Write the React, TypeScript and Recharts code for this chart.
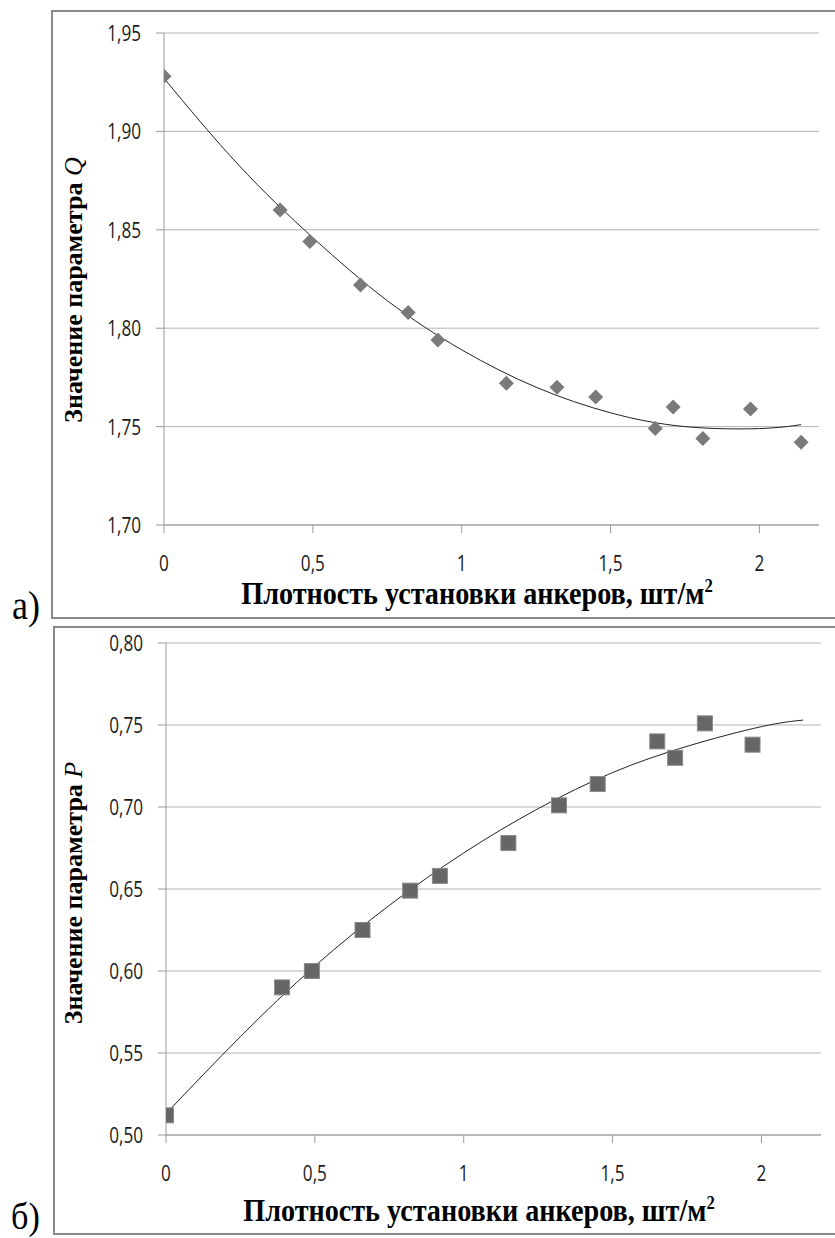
import React from 'react';
import { ComposedChart, Scatter, Line, XAxis, YAxis, CartesianGrid } from 'recharts';

// anchor density, pcs/m2
const density = [0, 0.39, 0.49, 0.66, 0.82, 0.92, 1.15, 1.32, 1.45, 1.65, 1.71, 1.81, 1.97, 2.14];
// parameter Q (chart a)
const qValues = [1.928, 1.86, 1.844, 1.822, 1.808, 1.794, 1.772, 1.77, 1.765, 1.749, 1.76, 1.744, 1.759, 1.742];
// parameter P (chart б), no point at 2.14
const pValues = [0.512, 0.59, 0.6, 0.625, 0.649, 0.658, 0.678, 0.701, 0.714, 0.74, 0.73, 0.751, 0.738];

// trend lines
const trendX = [0, 0.25, 0.5, 0.75, 1, 1.25, 1.5, 1.75, 2, 2.14];
const qTrend = [1.927, 1.883, 1.846, 1.814, 1.789, 1.77, 1.757, 1.75, 1.749, 1.751];
const pTrend = [0.513, 0.56, 0.603, 0.64, 0.672, 0.699, 0.721, 0.737, 0.749, 0.753];

const xTicks = [0, 0.5, 1, 1.5, 2];
const qTicks = [1.7, 1.75, 1.8, 1.85, 1.9, 1.95];
const pTicks = [0.5, 0.55, 0.6, 0.65, 0.7, 0.75, 0.8];

const X_TITLE = 'Плотность установки анкеров, шт/м';

const qPoints = density.map((x, i) => ({ x, y: qValues[i] }));
const pPoints = pValues.map((y, i) => ({ x: density[i], y }));
const qLine = trendX.map((x, i) => ({ x, y: qTrend[i] }));
const pLine = trendX.map((x, i) => ({ x, y: pTrend[i] }));

const TICK_FONT = '"Open Sans", "Noto Sans", sans-serif';
const SERIF = '"Liberation Serif", "DejaVu Serif", serif';
const comma = (v: number, d?: number) => (d === undefined ? String(v) : v.toFixed(d)).replace('.', ',');

const XTick = (props: any) => {
  const { x, y, payload } = props;
  return (
    <g transform={`translate(${x},${y + 36})`}>
      <text
        transform="scale(0.78,1)"
        textAnchor="middle"
        fontFamily={TICK_FONT}
        fontSize="22px"
        fill="#1a1a1a"
      >
        {comma(payload.value)}
      </text>
    </g>
  );
};

const YTick = (props: any) => {
  const { x, y, payload } = props;
  return (
    <g transform={`translate(${x - 13},${y + 8})`}>
      <text transform="scale(0.78,1)" textAnchor="end" fontFamily={TICK_FONT} fontSize="22px" fill="#1a1a1a">
        {comma(payload.value, 2)}
      </text>
    </g>
  );
};

const Diamond = (props: any) => {
  const { cx, cy } = props;
  const r = 7.5;
  return <path d={`M${cx},${cy - r}L${cx + r},${cy}L${cx},${cy + r}L${cx - r},${cy}Z`} fill="#7a7a7a" />;
};

const Square = (props: any) => {
  const { cx, cy } = props;
  return <rect x={cx - 7.5} y={cy - 7.5} width={15} height={15} fill="#666" stroke="#8a8a8a" strokeWidth={1} />;
};

function Panel({ points, line, ticks, domain, shape, margin }: any) {
  return (
    <ComposedChart width={835} height={620} margin={margin}>
      <CartesianGrid horizontal vertical={false} stroke="#b4b4b4" />
      <XAxis
        type="number"
        dataKey="x"
        domain={[0, 2.2]}
        ticks={xTicks}
        tickSize={8}
        stroke="#999"
        tick={<XTick />}
        height={30}
        allowDataOverflow
      />
      <YAxis
        type="number"
        domain={domain}
        ticks={ticks}
        tickSize={8}
        stroke="#999"
        tick={<YTick />}
        width={60}
        allowDataOverflow
      />
      <Line
        data={line}
        dataKey="y"
        type="natural"
        stroke="#222"
        strokeWidth={1}
        dot={false}
        isAnimationActive={false}
      />
      <Scatter data={points} dataKey="y" shape={shape} isAnimationActive={false} />
    </ComposedChart>
  );
}

function YTitle({ cx, cy, param }: { cx: number; cy: number; param: string }) {
  return (
    <text
      transform={`translate(${cx},${cy}) rotate(-90)`}
      textAnchor="middle"
      fontFamily={SERIF}
      fontSize="26px"
      fontWeight="bold"
      fill="#000"
    >
      Значение параметра{' '}
      <tspan fontStyle="italic" fontWeight="normal">
        {param}
      </tspan>
    </text>
  );
}

function XTitle({ cx, y }: { cx: number; y: number }) {
  return (
    <text
      transform={`translate(${cx},${y}) scale(0.88,1)`}
      textAnchor="middle"
      fontFamily={SERIF}
      fontSize="32px"
      fontWeight="bold"
      fill="#000"
    >
      {X_TITLE}
      <tspan fontSize="19px" dy={-12}>
        2
      </tspan>
    </text>
  );
}

export default function App() {
  return (
    <div
      style={{
        position: 'absolute',
        left: 0,
        top: 0,
        width: 835,
        height: 1238,
        overflow: 'hidden',
        background: '#fff',
      }}
    >
      <div style={{ position: 'absolute', left: 0, top: 0 }}>
        <Panel
          points={qPoints}
          line={qLine}
          ticks={qTicks}
          domain={[1.7, 1.95]}
          shape={<Diamond />}
          margin={{ top: 33, right: 16, bottom: 65, left: 104 }}
        />
      </div>
      <div style={{ position: 'absolute', left: 2, top: 610 }}>
        <Panel
          points={pPoints}
          line={pLine}
          ticks={pTicks}
          domain={[0.5, 0.8]}
          shape={<Square />}
          margin={{ top: 33, right: 16, bottom: 65, left: 104 }}
        />
      </div>
      <svg width={835} height={1238} style={{ position: 'absolute', left: 0, top: 0, pointerEvents: 'none' }}>
        <rect x={52} y={11} width={820} height={607} fill="none" stroke="#8a8a8a" strokeWidth={2} />
        <rect x={54} y={627} width={820} height={607} fill="none" stroke="#8a8a8a" strokeWidth={2} />
        <YTitle cx={82} cy={290} param="Q" />
        <YTitle cx={82} cy={893} param="P" />
        <XTitle cx={477} y={604} />
        <XTitle cx={479} y={1221} />
        <text transform="translate(12,619) scale(0.9,1)" fontFamily={SERIF} fontSize="40px" fill="#000">
          а)
        </text>
        <text transform="translate(11,1229) scale(0.9,1)" fontFamily={SERIF} fontSize="38px" fill="#000">
          б)
        </text>
      </svg>
    </div>
  );
}
